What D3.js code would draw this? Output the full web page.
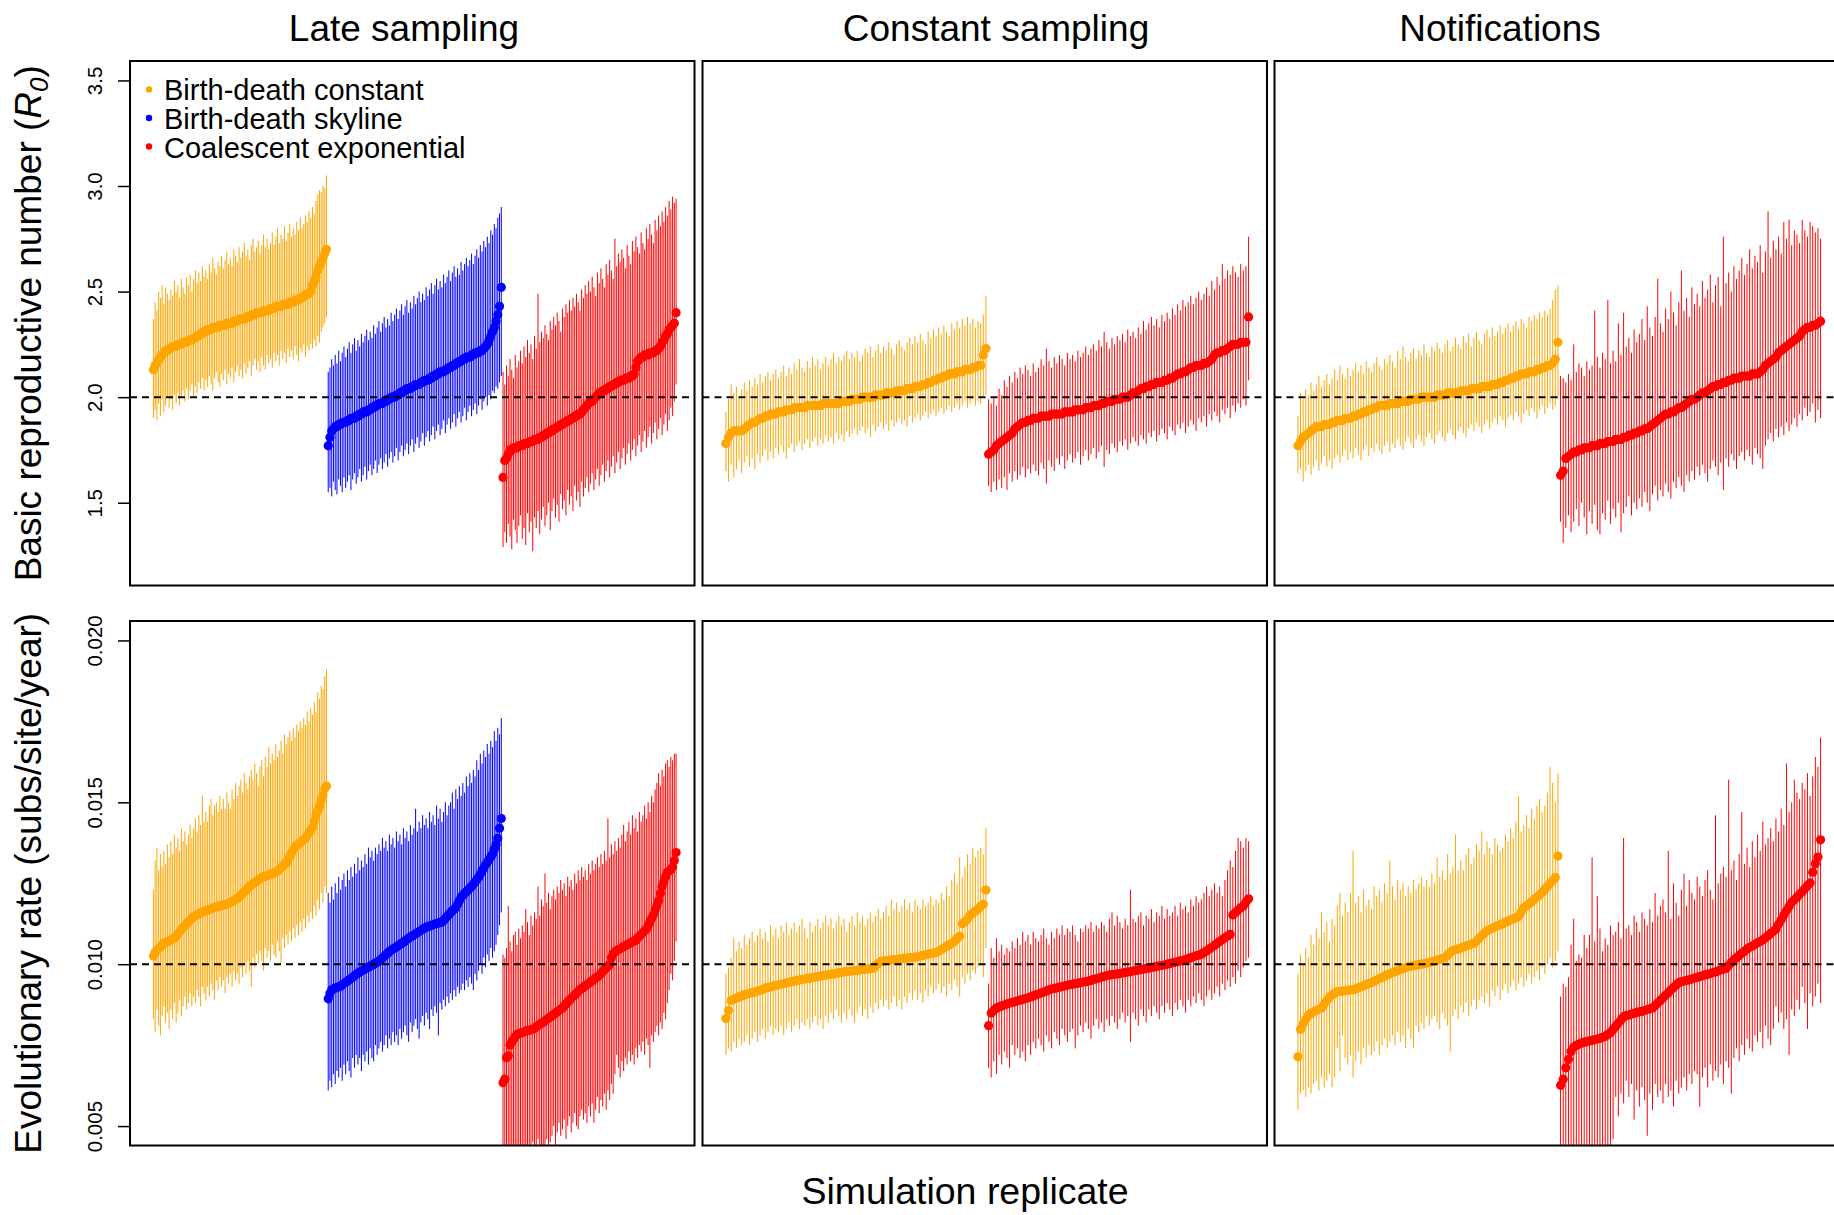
<!DOCTYPE html>
<html>
<head>
<meta charset="utf-8">
<script src="https://cdn.jsdelivr.net/npm/d3@7"></script>
<style>
  body { margin: 0; background: #fff; }
  svg { display: block; }
  text { font-family: "Liberation Sans", Arial, Helvetica, sans-serif; fill: #000; }
</style>
</head>
<body>
<div id="chart"></div>
<script>
// ---- labels ----
const columnTitles = ["Late sampling", "Constant sampling", "Notifications"];
const methods = ["Birth-death constant", "Birth-death skyline", "Coalescent exponential"];
const methodColors = ["orange", "blue", "red"];
const r0Ticks = [1.5, 2.0, 2.5, 3.0, 3.5];
const rateTicks = [0.005, 0.010, 0.015, 0.020];
const r0Lim = [1.2, 3.5];
const rateLim = [0.005, 0.020];
const trueR0 = 2.0;
const trueRate = 0.010;
const RATE_UNIT = 1e-3; // rate arrays below are in 10^-3 subs/site/year

// ---- R0, late sampling ----
const lateR0_bdc_med = [2.13,2.15,2.16,2.18,2.19,2.20,2.21,2.22,2.22,2.23, 2.23,2.24,2.24,2.24,2.25,2.25,2.25,2.26,2.26,2.26, 2.27,2.27,2.27,2.28,2.28,2.29,2.29,2.30,2.30,2.31, 2.31,2.32,2.32,2.32,2.33,2.33,2.33,2.33,2.34,2.34, 2.34,2.34,2.35,2.35,2.35,2.35,2.36,2.36,2.36,2.37, 2.37,2.37,2.37,2.38,2.38,2.38,2.39,2.39,2.39,2.40, 2.40,2.40,2.40,2.41,2.41,2.41,2.41,2.42,2.42,2.42, 2.43,2.43,2.43,2.43,2.44,2.44,2.44,2.44,2.45,2.45, 2.45,2.46,2.46,2.46,2.47,2.47,2.48,2.48,2.49,2.49, 2.50,2.53,2.55,2.57,2.60,2.62,2.64,2.66,2.68,2.70];
const lateR0_bdc_lo = [1.90,1.94,1.89,1.97,1.91,1.99,1.93,1.96,2.00,1.95, 1.99,1.94,2.01,1.97,2.02,1.96,2.00,2.03,1.98,2.04, 1.99,2.03,2.06,2.00,2.05,2.02,2.07,2.04,2.09,2.03, 2.08,2.05,2.10,2.06,2.03,2.09,2.12,2.07,2.05,2.11, 2.08,2.13,2.06,2.11,2.09,2.14,2.07,2.12,2.15,2.10, 2.13,2.09,2.16,2.11,2.14,2.17,2.10,2.15,2.18,2.13, 2.17,2.12,2.19,2.15,2.13,2.20,2.16,2.18,2.14,2.21, 2.17,2.20,2.15,2.22,2.18,2.21,2.16,2.23,2.19,2.22, 2.18,2.24,2.20,2.17,2.23,2.21,2.25,2.19,2.24,2.22, 2.25,2.23,2.27,2.24,2.29,2.26,2.31,2.33,2.35,2.38];
const lateR0_bdc_hi = [2.37,2.45,2.41,2.50,2.47,2.53,2.44,2.52,2.49,2.46, 2.51,2.48,2.55,2.50,2.53,2.47,2.56,2.52,2.49,2.57, 2.53,2.58,2.50,2.56,2.60,2.54,2.59,2.55,2.62,2.57, 2.60,2.56,2.63,2.59,2.66,2.61,2.58,2.64,2.62,2.67, 2.61,2.65,2.69,2.63,2.66,2.62,2.70,2.67,2.64,2.71, 2.66,2.69,2.73,2.67,2.70,2.65,2.72,2.75,2.69,2.71, 2.74,2.68,2.72,2.77,2.71,2.75,2.70,2.73,2.78,2.72, 2.76,2.80,2.73,2.77,2.75,2.81,2.74,2.78,2.82,2.76, 2.80,2.77,2.83,2.79,2.85,2.80,2.82,2.86,2.83,2.88, 2.85,2.90,2.87,2.93,2.96,2.98,2.97,3.00,2.99,3.05];

const lateR0_bds_med = [1.77,1.81,1.84,1.85,1.86,1.86,1.87,1.87,1.88,1.88, 1.88,1.89,1.89,1.90,1.90,1.90,1.91,1.91,1.92,1.92, 1.93,1.93,1.93,1.94,1.94,1.95,1.95,1.96,1.96,1.97, 1.97,1.97,1.98,1.98,1.99,1.99,2.00,2.00,2.00,2.01, 2.01,2.02,2.02,2.03,2.03,2.04,2.04,2.04,2.05,2.05, 2.06,2.06,2.06,2.07,2.07,2.08,2.08,2.08,2.09,2.09, 2.10,2.10,2.11,2.11,2.12,2.12,2.12,2.13,2.13,2.14, 2.14,2.15,2.15,2.16,2.16,2.17,2.17,2.18,2.18,2.19, 2.19,2.19,2.20,2.20,2.21,2.21,2.21,2.22,2.22,2.23, 2.24,2.25,2.27,2.29,2.31,2.33,2.36,2.39,2.43,2.52];
const lateR0_bds_lo = [1.55,1.57,1.53,1.60,1.56,1.54,1.61,1.58,1.55,1.62, 1.57,1.60,1.63,1.56,1.61,1.64,1.59,1.62,1.66,1.60, 1.63,1.67,1.61,1.65,1.68,1.63,1.66,1.70,1.64,1.68, 1.71,1.66,1.69,1.73,1.67,1.71,1.74,1.69,1.72,1.76, 1.70,1.74,1.77,1.72,1.75,1.78,1.73,1.77,1.80,1.74, 1.78,1.81,1.76,1.79,1.83,1.77,1.81,1.84,1.79,1.82, 1.86,1.80,1.84,1.87,1.82,1.85,1.89,1.83,1.87,1.90, 1.85,1.88,1.92,1.86,1.90,1.93,1.88,1.91,1.95,1.89, 1.93,1.96,1.91,1.94,1.97,1.92,1.96,1.99,1.94,1.98, 2.00,1.96,2.01,1.99,2.03,2.02,2.05,2.04,2.07,2.10];
const lateR0_bds_hi = [2.12,2.14,2.18,2.15,2.20,2.16,2.22,2.17,2.21,2.24, 2.19,2.23,2.26,2.21,2.25,2.28,2.22,2.27,2.24,2.30, 2.26,2.29,2.32,2.27,2.31,2.28,2.34,2.30,2.33,2.36, 2.31,2.35,2.38,2.33,2.37,2.34,2.40,2.36,2.39,2.42, 2.37,2.41,2.44,2.39,2.43,2.46,2.40,2.45,2.42,2.48, 2.44,2.47,2.50,2.45,2.49,2.46,2.52,2.48,2.51,2.54, 2.49,2.53,2.56,2.51,2.55,2.52,2.58,2.54,2.57,2.60, 2.55,2.59,2.62,2.57,2.61,2.58,2.64,2.60,2.63,2.66, 2.62,2.65,2.68,2.63,2.67,2.70,2.66,2.72,2.69,2.74, 2.71,2.76,2.73,2.79,2.77,2.82,2.80,2.85,2.87,2.90];

const lateR0_ce_med = [1.62,1.70,1.71,1.73,1.75,1.75,1.76,1.76,1.76,1.77, 1.77,1.77,1.78,1.78,1.78,1.79,1.79,1.79,1.80,1.80, 1.80,1.81,1.81,1.82,1.82,1.83,1.83,1.84,1.84,1.85, 1.85,1.86,1.86,1.87,1.87,1.88,1.88,1.89,1.89,1.90, 1.90,1.91,1.91,1.92,1.92,1.93,1.94,1.95,1.96,1.97, 1.98,1.98,1.99,2.00,2.01,2.02,2.02,2.03,2.03,2.04, 2.04,2.05,2.05,2.06,2.06,2.07,2.07,2.08,2.08,2.08, 2.09,2.09,2.09,2.10,2.10,2.11,2.14,2.17,2.18,2.19, 2.19,2.20,2.20,2.20,2.21,2.21,2.21,2.22,2.22,2.23, 2.24,2.26,2.27,2.29,2.30,2.32,2.33,2.34,2.35,2.40];
const lateR0_ce_lo = [1.29,1.36,1.31,1.40,1.34,1.28,1.42,1.37,1.31,1.39, 1.44,1.33,1.38,1.30,1.45,1.36,1.41,1.27,1.43,1.38, 1.46,1.35,1.42,1.48,1.39,1.44,1.50,1.37,1.46,1.52, 1.43,1.49,1.41,1.54,1.47,1.51,1.44,1.56,1.49,1.53, 1.46,1.58,1.51,1.55,1.48,1.60,1.53,1.57,1.62,1.55, 1.59,1.64,1.56,1.61,1.66,1.58,1.63,1.68,1.60,1.65, 1.70,1.62,1.67,1.72,1.64,1.69,1.74,1.66,1.71,1.76, 1.68,1.73,1.78,1.70,1.75,1.80,1.72,1.77,1.82,1.74, 1.79,1.84,1.76,1.81,1.86,1.78,1.83,1.88,1.80,1.85, 1.90,1.82,1.87,1.92,1.84,1.89,1.95,1.91,1.98,2.06];
const lateR0_ce_hi = [2.12,2.06,2.15,2.10,2.18,2.13,2.09,2.20,2.14,2.17, 2.22,2.16,2.24,2.19,2.27,2.21,2.25,2.18,2.29,2.23, 2.49,2.26,2.31,2.28,2.34,2.30,2.27,2.36,2.32,2.38, 2.34,2.40,2.36,2.31,2.42,2.38,2.44,2.40,2.46,2.41, 2.47,2.43,2.49,2.45,2.41,2.51,2.47,2.53,2.49,2.55, 2.50,2.57,2.52,2.48,2.59,2.54,2.61,2.56,2.52,2.63, 2.58,2.65,2.60,2.56,2.75,2.62,2.68,2.64,2.70,2.66, 2.61,2.72,2.67,2.63,2.74,2.69,2.76,2.71,2.68,2.78, 2.73,2.70,2.80,2.75,2.82,2.77,2.73,2.84,2.79,2.86, 2.81,2.88,2.83,2.90,2.86,2.93,2.89,2.95,2.92,2.94];

// ---- R0, constant sampling ----
const constR0_bdc_med = [1.78,1.81,1.83,1.84,1.84,1.84,1.84,1.85,1.86,1.87, 1.88,1.88,1.89,1.90,1.90,1.91,1.91,1.92,1.92,1.92, 1.93,1.93,1.93,1.94,1.94,1.94,1.95,1.95,1.95,1.95, 1.95,1.96,1.96,1.96,1.96,1.96,1.96,1.97,1.97,1.97, 1.97,1.97,1.97,1.97,1.98,1.98,1.98,1.98,1.99,1.99, 1.99,1.99,2.00,2.00,2.00,2.00,2.00,2.01,2.01,2.01, 2.01,2.02,2.02,2.02,2.02,2.03,2.03,2.03,2.03,2.04, 2.04,2.04,2.05,2.05,2.05,2.06,2.06,2.07,2.07,2.08, 2.08,2.09,2.09,2.10,2.10,2.11,2.11,2.11,2.12,2.12, 2.12,2.13,2.13,2.13,2.14,2.14,2.15,2.15,2.20,2.23];
const constR0_bdc_lo = [1.65,1.60,1.68,1.62,1.66,1.70,1.64,1.69,1.72,1.67, 1.71,1.66,1.73,1.69,1.72,1.75,1.70,1.74,1.71,1.76, 1.73,1.77,1.74,1.71,1.76,1.78,1.74,1.77,1.79,1.75, 1.78,1.80,1.76,1.79,1.81,1.77,1.80,1.78,1.82,1.79, 1.81,1.78,1.83,1.80,1.82,1.79,1.84,1.81,1.83,1.85, 1.82,1.84,1.86,1.83,1.85,1.81,1.87,1.84,1.86,1.88, 1.85,1.87,1.84,1.89,1.86,1.88,1.90,1.87,1.89,1.86, 1.91,1.88,1.90,1.92,1.89,1.91,1.93,1.90,1.92,1.94, 1.91,1.93,1.95,1.92,1.94,1.96,1.93,1.95,1.97,1.94, 1.96,1.98,1.95,1.97,1.99,1.96,1.98,1.97,2.00,2.01];
const constR0_bdc_hi = [1.93,1.99,2.06,2.02,2.05,2.00,2.04,2.07,2.03,2.08, 2.05,2.09,2.06,2.11,2.07,2.10,2.12,2.08,2.11,2.13, 2.09,2.12,2.15,2.10,2.14,2.11,2.16,2.13,2.18,2.14, 2.12,2.17,2.14,2.19,2.15,2.18,2.13,2.16,2.19,2.15, 2.18,2.21,2.16,2.19,2.17,2.20,2.22,2.18,2.21,2.19, 2.22,2.17,2.20,2.23,2.21,2.24,2.19,2.22,2.25,2.21, 2.24,2.22,2.26,2.23,2.20,2.25,2.27,2.24,2.22,2.26, 2.28,2.25,2.29,2.26,2.30,2.27,2.25,2.31,2.28,2.32, 2.29,2.33,2.30,2.34,2.31,2.29,2.35,2.32,2.36,2.33, 2.37,2.34,2.38,2.35,2.37,2.33,2.36,2.35,2.39,2.48];

const constR0_ce_med = [1.73,1.74,1.75,1.77,1.78,1.79,1.80,1.81,1.82,1.83, 1.85,1.86,1.87,1.88,1.88,1.89,1.89,1.90,1.90,1.90, 1.91,1.91,1.91,1.91,1.92,1.92,1.92,1.92,1.92,1.93, 1.93,1.93,1.93,1.94,1.94,1.94,1.94,1.95,1.95,1.95, 1.96,1.96,1.96,1.97,1.97,1.98,1.98,1.98,1.99,1.99, 1.99,2.00,2.00,2.00,2.01,2.02,2.02,2.03,2.04,2.04, 2.05,2.05,2.06,2.06,2.07,2.07,2.07,2.08,2.08,2.09, 2.09,2.10,2.11,2.11,2.12,2.12,2.13,2.14,2.14,2.15, 2.15,2.15,2.16,2.16,2.17,2.18,2.20,2.21,2.21,2.22, 2.22,2.23,2.24,2.25,2.25,2.25,2.26,2.26,2.26,2.38];
const constR0_ce_lo = [1.58,1.55,1.60,1.56,1.61,1.57,1.62,1.56,1.64,1.60, 1.65,1.61,1.63,1.67,1.62,1.66,1.64,1.68,1.65,1.63, 1.69,1.66,1.59,1.70,1.67,1.65,1.71,1.68,1.72,1.66, 1.70,1.73,1.69,1.71,1.74,1.68,1.72,1.75,1.70,1.73, 1.76,1.71,1.74,1.77,1.67,1.75,1.73,1.78,1.76,1.74, 1.79,1.77,1.80,1.75,1.78,1.81,1.79,1.77,1.82,1.80, 1.78,1.83,1.81,1.84,1.79,1.82,1.85,1.83,1.80,1.86, 1.84,1.82,1.87,1.85,1.88,1.83,1.86,1.89,1.87,1.84, 1.90,1.88,1.91,1.86,1.92,1.89,1.93,1.91,1.88,1.94, 1.92,1.95,1.90,1.96,1.93,1.97,1.95,1.99,1.96,2.08];
const constR0_ce_hi = [1.99,1.97,2.00,1.96,2.04,2.01,2.08,2.05,2.10,2.07, 2.12,2.09,2.14,2.11,2.15,2.13,2.10,2.16,2.12,2.14, 2.18,2.15,2.23,2.17,2.14,2.19,2.16,2.20,2.18,2.15, 2.21,2.18,2.20,2.17,2.22,2.19,2.21,2.24,2.20,2.23, 2.25,2.22,2.27,2.24,2.31,2.26,2.23,2.28,2.25,2.29, 2.27,2.30,2.26,2.32,2.29,2.31,2.28,2.33,2.30,2.36, 2.32,2.35,2.38,2.34,2.37,2.33,2.39,2.36,2.40,2.37, 2.42,2.39,2.44,2.41,2.46,2.43,2.45,2.48,2.44,2.47, 2.50,2.46,2.49,2.52,2.48,2.55,2.51,2.57,2.53,2.63, 2.56,2.60,2.58,2.62,2.59,2.57,2.63,2.60,2.62,2.76];

// ---- R0, notifications ----
const notifR0_bdc_med = [1.77,1.79,1.81,1.82,1.83,1.84,1.85,1.86,1.86,1.86, 1.87,1.87,1.87,1.88,1.88,1.89,1.89,1.89,1.90,1.90, 1.90,1.91,1.91,1.92,1.92,1.93,1.93,1.94,1.94,1.95, 1.95,1.96,1.96,1.96,1.96,1.97,1.97,1.97,1.97,1.98, 1.98,1.98,1.98,1.99,1.99,1.99,1.99,2.00,2.00,2.00, 2.00,2.00,2.00,2.01,2.01,2.01,2.01,2.02,2.02,2.02, 2.02,2.02,2.03,2.03,2.03,2.03,2.04,2.04,2.04,2.04, 2.05,2.05,2.05,2.05,2.06,2.06,2.06,2.07,2.07,2.08, 2.08,2.09,2.09,2.10,2.10,2.11,2.11,2.11,2.12,2.12, 2.12,2.13,2.13,2.14,2.14,2.15,2.15,2.16,2.18,2.26];
const notifR0_bdc_lo = [1.64,1.66,1.60,1.65,1.68,1.63,1.67,1.70,1.65,1.69, 1.72,1.67,1.70,1.66,1.71,1.73,1.69,1.72,1.75,1.70, 1.74,1.71,1.76,1.73,1.70,1.75,1.77,1.72,1.76,1.74, 1.78,1.75,1.73,1.77,1.79,1.74,1.78,1.76,1.80,1.77, 1.75,1.79,1.81,1.78,1.76,1.80,1.82,1.79,1.77,1.81, 1.83,1.80,1.78,1.82,1.84,1.81,1.79,1.83,1.85,1.82, 1.80,1.84,1.86,1.83,1.81,1.85,1.87,1.84,1.88,1.86, 1.83,1.87,1.89,1.85,1.88,1.90,1.87,1.91,1.89,1.86, 1.90,1.92,1.89,1.93,1.91,1.88,1.92,1.94,1.91,1.95, 1.93,1.90,1.94,1.96,1.92,1.95,1.97,1.94,1.96,1.99];
const notifR0_bdc_hi = [1.91,2.02,1.99,2.04,2.01,2.07,2.03,2.06,2.10,2.05, 2.08,2.11,2.06,2.09,2.13,2.08,2.15,2.11,2.09,2.14, 2.10,2.13,2.16,2.12,2.15,2.11,2.17,2.14,2.12,2.16, 2.19,2.15,2.13,2.18,2.16,2.20,2.17,2.14,2.22,2.18, 2.24,2.19,2.17,2.21,2.23,2.18,2.22,2.20,2.25,2.21, 2.19,2.24,2.22,2.26,2.23,2.21,2.25,2.27,2.22,2.24, 2.28,2.25,2.23,2.29,2.26,2.30,2.24,2.28,2.31,2.27, 2.25,2.30,2.32,2.28,2.33,2.29,2.31,2.34,2.30,2.33, 2.35,2.31,2.34,2.36,2.32,2.37,2.35,2.33,2.38,2.36, 2.39,2.37,2.40,2.38,2.41,2.39,2.42,2.46,2.51,2.53];

const notifR0_ce_med = [1.63,1.65,1.71,1.72,1.73,1.74,1.74,1.75,1.75,1.76, 1.76,1.76,1.77,1.77,1.77,1.78,1.78,1.78,1.79,1.79, 1.79,1.80,1.80,1.80,1.81,1.81,1.82,1.82,1.83,1.83, 1.84,1.84,1.85,1.85,1.86,1.87,1.88,1.89,1.90,1.91, 1.92,1.92,1.93,1.93,1.94,1.95,1.95,1.96,1.97,1.98, 1.99,1.99,2.00,2.01,2.02,2.02,2.03,2.04,2.05,2.05, 2.06,2.06,2.07,2.07,2.08,2.08,2.09,2.09,2.09,2.10, 2.10,2.10,2.10,2.11,2.11,2.11,2.12,2.13,2.15,2.16, 2.17,2.18,2.19,2.21,2.22,2.23,2.24,2.25,2.26,2.27, 2.28,2.29,2.31,2.32,2.33,2.33,2.34,2.34,2.35,2.36];
const notifR0_ce_lo = [1.41,1.31,1.38,1.44,1.36,1.41,1.47,1.39,1.50,1.43, 1.35,1.46,1.40,1.49,1.37,1.35,1.45,1.42,1.51,1.40, 1.47,1.43,1.50,1.36,1.45,1.48,1.53,1.44,1.50,1.47, 1.52,1.48,1.55,1.50,1.46,1.54,1.58,1.51,1.56,1.53, 1.59,1.55,1.52,1.60,1.57,1.62,1.58,1.55,1.63,1.60, 1.65,1.61,1.67,1.63,1.68,1.64,1.60,1.66,1.70,1.67, 1.63,1.69,1.56,1.71,1.67,1.73,1.70,1.66,1.72,1.74, 1.70,1.75,1.72,1.68,1.76,1.73,1.71,1.66,1.77,1.80, 1.83,1.79,1.85,1.81,1.86,1.82,1.88,1.84,1.87,1.90, 1.86,1.92,1.89,1.95,1.91,1.93,1.97,1.88,1.94,1.90];
const notifR0_ce_hi = [2.10,2.09,2.07,2.11,2.08,2.25,2.12,2.16,2.14,2.10, 2.17,2.13,2.15,2.41,2.19,2.14,2.21,2.18,2.46,2.16, 2.22,2.17,2.35,2.20,2.40,2.24,2.28,2.21,2.32,2.26, 2.30,2.37,2.27,2.43,2.33,2.29,2.38,2.56,2.35,2.31, 2.42,2.37,2.50,2.40,2.34,2.45,2.60,2.41,2.47,2.38, 2.52,2.44,2.49,2.43,2.55,2.47,2.51,2.58,2.45,2.53, 2.57,2.43,2.76,2.54,2.59,2.50,2.62,2.56,2.60,2.66, 2.58,2.63,2.70,2.61,2.67,2.64,2.72,2.59,2.69,2.88, 2.66,2.74,2.70,2.76,2.68,2.83,2.75,2.84,2.72,2.79, 2.77,2.73,2.84,2.79,2.76,2.83,2.81,2.78,2.80,2.75];

// ---- evolutionary rate (x 10^-3), late sampling ----
const lateRate_bdc_med = [10.25,10.36,10.42,10.48,10.53,10.59,10.64,10.67,10.70,10.72, 10.75,10.78,10.80,10.86,10.93,11.00,11.07,11.13,11.19,11.25, 11.30,11.36,11.41,11.47,11.50,11.53,11.56,11.58,11.61,11.63, 11.65,11.67,11.69,11.71,11.74,11.75,11.77,11.78,11.80,11.81, 11.83,11.84,11.85,11.88,11.91,11.94,11.97,12.00,12.03,12.07, 12.12,12.18,12.24,12.29,12.34,12.40,12.44,12.48,12.52,12.56, 12.60,12.64,12.68,12.70,12.72,12.74,12.76,12.78,12.80,12.82, 12.84,12.88,12.93,12.98,13.03,13.08,13.12,13.23,13.34,13.43, 13.52,13.62,13.66,13.71,13.75,13.80,13.85,13.89,13.98,14.06, 14.14,14.22,14.42,14.61,14.75,14.88,15.05,15.22,15.43,15.50];
const lateRate_bdc_lo = [8.3,7.9,8.6,8.1,7.8,8.4,8.7,8.2,8.5,8.0, 8.6,8.3,8.8,8.2,8.5,8.9,8.4,8.7,9.0,8.6, 8.8,9.1,8.7,9.0,8.8,9.2,9.0,8.7,9.3,9.1, 8.9,9.3,9.0,9.4,9.2,8.9,9.5,9.2,9.6,9.3, 9.5,9.1,9.6,9.4,9.7,9.3,9.8,9.5,9.7,9.4, 9.9,9.6,10.0,9.7,10.1,9.8,9.3,10.2,9.9,10.3, 10.0,10.4,10.1,9.8,10.5,10.2,10.4,10.1,10.6,10.3, 10.2,10.7,10.4,10.0,10.8,10.5,10.9,10.6,11.0,10.7, 11.1,10.8,11.2,10.9,11.3,11.0,11.4,11.1,11.5,11.3, 11.6,11.4,11.8,11.5,12.0,11.7,12.2,11.9,12.4,12.2];
const lateRate_bdc_hi = [12.3,13.2,13.6,12.9,13.4,13.0,13.5,13.1,13.7,13.3, 13.8,13.4,14.0,13.6,13.9,13.5,14.2,13.8,14.1,13.7, 14.0,14.3,13.9,14.2,14.5,14.1,14.6,14.3,15.2,14.4, 14.7,14.4,14.9,15.1,14.6,14.9,15.0,14.7,15.2,14.8, 15.1,14.8,15.3,15.0,14.8,15.4,15.1,15.6,15.2,15.5, 15.7,15.3,15.9,15.6,15.4,15.8,16.0,15.7,16.2,15.9, 15.5,16.1,16.3,15.8,16.4,16.1,16.7,16.2,16.5,16.3, 16.8,16.4,16.6,16.9,16.5,17.1,16.8,17.0,17.2,16.9, 17.3,17.0,17.4,17.2,17.5,17.3,17.6,17.4,17.8,17.5, 17.9,17.7,18.1,17.8,18.4,18.2,18.6,18.5,18.9,19.1];

const lateRate_bds_med = [8.93,9.10,9.21,9.24,9.26,9.28,9.30,9.32,9.36,9.40, 9.44,9.48,9.52,9.56,9.60,9.64,9.68,9.72,9.76,9.79, 9.82,9.85,9.88,9.91,9.94,9.97,10.00,10.03,10.06,10.09, 10.14,10.19,10.24,10.29,10.34,10.39,10.43,10.47,10.50,10.53, 10.57,10.61,10.64,10.68,10.72,10.76,10.80,10.84,10.87,10.91, 10.94,10.97,11.01,11.04,11.08,11.11,11.14,11.16,11.18,11.20, 11.22,11.24,11.25,11.27,11.29,11.30,11.35,11.41,11.47,11.53, 11.59,11.65,11.70,11.74,11.85,11.96,12.07,12.12,12.18,12.24, 12.29,12.35,12.40,12.47,12.54,12.61,12.68,12.78,12.88,12.97, 13.07,13.15,13.23,13.32,13.40,13.55,13.70,13.89,14.20,14.50];
const lateRate_bds_lo = [6.1,6.4,6.2,6.6,6.3,6.7,6.5,6.8,6.4,6.9, 6.6,7.0,6.7,6.5,7.1,6.8,7.2,6.9,7.1,6.7, 7.2,7.0,7.3,6.9,7.4,7.1,7.0,7.5,7.2,7.4, 7.6,7.3,7.5,7.8,7.4,7.7,7.5,7.9,7.6,7.8, 7.5,8.0,7.7,7.9,8.1,7.8,7.6,8.2,7.9,8.1, 8.3,8.0,7.7,8.2,8.4,8.1,8.5,8.3,8.0,8.6, 8.4,8.7,8.5,7.8,8.8,8.6,8.9,8.7,9.0,8.8, 9.1,8.9,9.2,9.0,9.3,9.1,9.2,9.4,9.2,9.5, 9.3,9.6,9.4,9.2,9.7,9.5,9.8,10.0,9.7,10.2, 9.9,10.3,10.1,10.5,10.2,10.4,10.6,10.9,11.2,11.6];
const lateRate_bds_hi = [12.2,11.9,12.4,12.0,12.5,12.2,12.7,12.3,12.6,12.8, 12.4,12.9,12.6,13.0,12.7,13.1,12.8,13.3,12.9,13.2, 13.0,13.4,13.1,13.6,13.3,13.5,13.2,13.6,13.4,13.7, 13.5,13.9,13.6,13.8,13.5,14.0,13.7,13.9,13.6,14.1, 13.8,14.0,13.7,14.2,13.9,14.1,13.8,14.3,14.0,14.2, 14.8,14.1,14.4,14.2,14.6,14.3,14.5,14.2,14.7,14.4, 14.6,14.3,14.9,14.5,14.8,14.4,14.7,15.0,14.6,14.9, 15.0,15.3,14.8,15.4,15.1,15.5,15.2,15.6,15.3,15.8, 15.5,15.9,15.6,16.0,15.8,16.3,16.0,16.5,16.2,16.6, 16.4,16.8,16.5,16.9,16.7,17.2,16.9,17.3,17.1,17.6];

const lateRate_ce_med = [6.34,6.45,7.11,7.17,7.50,7.60,7.68,7.76,7.83,7.85, 7.87,7.89,7.91,7.93,7.95,7.96,7.98,7.99,8.03,8.07, 8.10,8.14,8.18,8.21,8.25,8.29,8.33,8.37,8.41,8.45, 8.49,8.53,8.57,8.61,8.65,8.71,8.77,8.83,8.89,8.95, 9.00,9.05,9.10,9.16,9.21,9.25,9.29,9.33,9.37,9.41, 9.45,9.49,9.53,9.57,9.61,9.65,9.71,9.77,9.83,9.89, 9.94,9.98,10.20,10.32,10.38,10.42,10.45,10.48,10.51,10.54, 10.57,10.60,10.63,10.66,10.69,10.72,10.75,10.81,10.86,10.92, 10.97,11.03,11.08,11.19,11.30,11.41,11.52,11.67,11.81,11.96, 12.18,12.40,12.55,12.70,12.84,12.88,12.92,13.00,13.20,13.45];
const lateRate_ce_lo = [3.8,4.1,3.6,4.3,3.9,4.2,3.7,4.0,4.3,3.8, 4.2,3.9,4.4,4.0,4.3,3.8,4.1,4.5,4.0,4.3, 4.6,4.1,4.4,4.2,3.9,4.6,4.3,4.5,4.7,5.0, 4.4,4.8,5.1,4.7,4.9,5.2,4.6,5.0,5.3,4.8, 5.1,5.4,5.0,4.9,5.3,5.5,5.2,5.4,5.1,5.6, 5.3,5.7,5.1,5.5,5.9,5.4,5.8,5.6,6.0,5.5, 6.1,5.8,6.3,6.0,6.6,7.2,6.8,6.5,7.0,6.7, 7.1,6.9,7.3,7.0,7.2,6.9,7.4,7.1,7.5,7.3, 7.6,7.2,7.7,7.5,6.8,7.8,7.6,7.9,8.1,7.8, 8.2,8.0,8.5,8.3,8.8,9.2,9.7,9.5,10.1,10.7];
const lateRate_ce_hi = [10.3,10.2,10.5,11.8,10.7,10.4,10.9,11.0,10.6,11.1, 10.8,11.2,11.0,11.7,11.3,10.9,11.5,11.2,11.6,11.4, 12.4,11.5,12.0,11.8,12.8,11.9,12.2,11.7,12.1,12.3, 12.0,12.4,12.2,12.6,12.3,12.5,12.1,12.7,12.4,12.6, 12.3,12.8,12.5,12.9,12.6,13.0,12.7,12.9,12.6,13.1, 12.8,13.2,12.9,13.1,13.3,13.0,13.4,13.1,13.5,13.2, 14.5,13.3,13.7,13.4,13.8,13.5,13.9,13.6,14.0,14.3, 13.8,14.1,14.4,14.0,14.6,14.2,14.5,14.1,14.7,14.4, 14.6,14.9,14.5,15.0,14.7,15.2,15.0,15.4,15.6,15.9, 15.5,16.0,15.8,16.2,16.3,16.1,16.4,16.3,16.5,16.5];

// ---- evolutionary rate (x 10^-3), constant sampling ----
const constRate_bdc_med = [8.32,8.57,8.88,8.92,8.95,8.99,9.02,9.05,9.08,9.10, 9.12,9.14,9.17,9.19,9.22,9.26,9.28,9.30,9.32,9.34, 9.36,9.38,9.40,9.42,9.44,9.46,9.48,9.50,9.51,9.53, 9.54,9.56,9.57,9.59,9.60,9.62,9.63,9.65,9.66,9.68, 9.69,9.70,9.72,9.73,9.75,9.76,9.77,9.78,9.79,9.80, 9.81,9.82,9.83,9.84,9.85,9.86,9.87,9.95,10.02,10.09, 10.10,10.11,10.12,10.13,10.14,10.15,10.16,10.17,10.18,10.19, 10.20,10.21,10.22,10.23,10.25,10.27,10.29,10.31,10.33,10.34, 10.36,10.40,10.45,10.50,10.55,10.60,10.64,10.71,10.79,10.86, 11.25,11.30,11.40,11.52,11.58,11.64,11.70,11.80,11.85,12.29];
const constRate_bdc_lo = [7.2,7.4,7.3,7.6,7.4,7.7,7.5,7.6,7.8,7.5, 7.7,7.9,7.6,7.8,8.0,7.7,7.9,8.1,7.8,8.0, 7.9,8.1,7.8,8.0,8.2,7.9,8.1,8.3,8.0,8.2, 8.1,8.3,8.0,8.2,8.4,8.1,8.3,8.0,8.4,8.2, 8.5,8.3,8.6,8.4,8.2,8.5,8.3,8.6,8.4,8.2, 8.5,8.7,8.4,8.6,8.3,8.7,8.5,8.8,8.6,8.9, 8.7,8.9,8.6,8.8,9.0,8.7,8.9,8.6,9.0,8.8, 9.1,8.9,9.2,8.9,9.1,8.8,9.2,9.0,9.3,9.1, 9.2,9.4,9.1,9.3,9.0,9.4,9.2,9.5,9.3,9.0, 9.6,9.4,9.7,9.5,9.8,9.7,9.9,10.0,9.6,10.5];
const constRate_bdc_hi = [9.7,9.9,10.2,10.8,10.4,10.7,10.5,10.9,10.6,10.8, 11.0,10.7,10.9,11.1,10.8,11.0,10.7,11.2,10.9,11.1, 10.8,11.2,11.0,11.3,10.9,11.1,11.3,11.0,11.2,11.4, 11.1,10.8,11.3,11.0,11.2,11.4,11.1,11.3,11.5,11.2, 11.4,11.1,11.3,11.5,11.2,11.4,11.0,11.3,11.5,11.2, 11.6,11.3,11.5,11.2,11.4,11.6,11.3,11.5,11.7,11.4, 11.6,11.8,11.5,12.0,11.7,11.9,11.6,11.8,12.0,11.7, 11.9,11.6,12.0,11.8,11.7,12.0,11.8,11.9,12.1,11.8, 12.0,11.9,12.2,12.0,12.4,12.1,12.6,12.8,12.5,13.3, 12.7,13.0,13.4,13.1,13.6,13.3,13.5,13.6,13.4,14.2];

const constRate_ce_med = [8.10,8.49,8.58,8.65,8.68,8.71,8.74,8.77,8.80,8.82, 8.84,8.87,8.89,8.91,8.94,8.96,8.99,9.02,9.05,9.08, 9.11,9.14,9.17,9.21,9.23,9.25,9.27,9.29,9.31,9.33, 9.35,9.37,9.38,9.40,9.41,9.43,9.45,9.46,9.48,9.50, 9.53,9.55,9.57,9.60,9.62,9.65,9.66,9.68,9.69,9.70, 9.71,9.73,9.74,9.76,9.77,9.79,9.80,9.82,9.83,9.85, 9.87,9.88,9.90,9.91,9.93,9.95,9.96,9.98,10.00,10.02, 10.04,10.06,10.08,10.10,10.12,10.14,10.17,10.20,10.23,10.26, 10.28,10.31,10.36,10.41,10.47,10.52,10.58,10.64,10.70,10.76, 10.82,10.87,10.92,11.52,11.60,11.67,11.74,11.80,11.92,12.02];
const constRate_ce_lo = [6.8,6.5,7.0,6.6,7.2,6.9,7.3,7.1,6.8,7.5, 7.2,7.4,7.1,7.3,7.0,7.5,7.2,7.6,7.4,7.7, 7.5,7.3,7.8,7.6,7.4,7.9,7.7,7.5,8.0,7.8, 7.6,7.9,8.0,7.4,7.8,8.1,7.9,8.2,8.0,7.7, 8.1,8.3,8.0,8.2,7.9,8.3,8.1,8.4,8.2,8.0, 8.3,8.5,8.2,8.4,7.6,8.5,8.3,8.1,8.6,8.4, 8.2,8.6,8.4,8.7,8.5,8.3,8.7,8.5,8.8,8.6, 8.4,8.8,8.6,8.9,8.7,8.5,8.9,8.7,9.0,8.8, 9.1,8.9,8.7,9.0,9.2,8.9,9.1,9.3,9.0,9.4, 9.2,9.5,9.3,9.6,9.4,9.8,9.6,9.9,10.1,10.2];
const constRate_ce_hi = [9.4,10.5,10.2,10.8,10.4,10.6,10.3,10.5,10.4,10.7, 10.5,10.8,10.6,11.0,10.7,10.9,10.6,11.0,10.8,10.7, 10.9,11.1,10.8,10.6,11.0,10.8,11.1,10.9,11.2,10.9, 11.1,11.0,11.2,10.9,10.7,11.1,11.0,11.2,11.1,11.3, 11.0,11.2,11.1,11.3,11.2,11.0,11.4,11.6,11.2,11.5, 11.3,11.1,11.4,11.2,12.3,11.4,11.3,11.5,11.6,11.2, 11.5,11.4,11.7,11.3,11.6,11.5,11.8,11.4,11.7,11.5, 11.6,11.8,11.5,11.9,11.7,11.8,11.6,12.0,11.8,12.1, 11.9,12.0,12.2,12.4,12.1,12.3,12.5,12.2,12.4,12.1, 12.6,12.9,13.2,13.0,13.5,13.9,13.8,13.6,13.9,13.8];

// ---- evolutionary rate (x 10^-3), notifications ----
const notifRate_bdc_med = [7.14,7.99,8.16,8.30,8.43,8.48,8.53,8.57,8.61,8.65, 8.76,8.88,8.99,9.05,9.10,9.15,9.16,9.17,9.18,9.19, 9.20,9.21,9.24,9.27,9.30,9.33,9.37,9.40,9.43,9.47, 9.51,9.55,9.59,9.63,9.67,9.70,9.74,9.77,9.80,9.83, 9.86,9.89,9.92,9.94,9.95,9.97,9.98,10.00,10.01,10.03, 10.05,10.08,10.10,10.13,10.15,10.18,10.20,10.28,10.36,10.42, 10.45,10.47,10.50,10.53,10.56,10.59,10.62,10.64,10.72,10.80, 10.88,10.96,11.03,11.07,11.11,11.15,11.19,11.22,11.25,11.29, 11.33,11.37,11.40,11.44,11.47,11.61,11.74,11.80,11.87,11.93, 12.00,12.07,12.13,12.22,12.31,12.40,12.49,12.58,12.68,13.34];
const notifRate_bdc_lo = [5.5,6.0,6.1,5.9,6.2,6.0,6.3,6.4,6.1,6.5, 6.2,6.4,6.6,6.2,6.5,7.4,6.7,7.8,7.1,6.9, 7.2,6.5,7.0,7.3,6.9,7.4,7.1,7.5,7.2,7.3, 7.6,7.2,7.5,7.7,7.4,7.6,7.8,7.5,7.9,7.6, 7.8,7.4,8.0,7.7,7.4,8.1,7.9,8.2,8.0,8.4, 8.1,8.3,8.4,8.2,8.0,8.5,8.3,8.1,7.3,8.4, 8.6,8.3,8.7,8.5,8.8,8.4,8.7,8.9,8.6,8.9, 9.0,8.8,9.1,8.7,9.2,9.0,9.3,8.9,9.2,9.4, 9.1,9.3,9.5,9.2,9.4,9.6,9.3,9.5,9.7,9.4, 9.6,9.8,9.5,9.9,9.7,10.0,10.2,9.9,10.1,10.4];
const notifRate_bdc_hi = [9.7,10.3,10.0,10.5,10.2,10.9,10.6,11.1,10.8,11.6, 11.0,11.3,10.7,11.4,11.2,11.8,12.2,11.5,11.9,11.6, 12.2,13.5,11.9,12.1,11.6,12.3,11.8,12.0,11.7,12.4, 12.1,12.3,11.9,12.5,12.2,13.2,12.4,12.0,12.6,12.3, 12.5,12.1,12.4,12.2,12.6,12.3,12.5,12.7,12.4,12.6, 12.4,12.8,12.5,13.3,12.7,12.9,12.6,13.4,12.8,13.0, 14.0,12.9,13.2,12.9,13.4,13.6,13.1,13.3,13.7,13.5, 14.1,13.4,13.8,13.6,13.4,13.9,13.7,13.5,13.6,14.0, 13.8,14.2,13.9,14.4,15.2,14.1,14.3,14.6,14.2,14.8, 14.5,14.9,15.1,14.7,14.9,15.3,16.1,15.6,15.0,15.9];

const notifRate_ce_med = [6.26,6.45,6.80,7.06,7.30,7.44,7.49,7.53,7.56,7.59, 7.61,7.63,7.65,7.67,7.69,7.71,7.74,7.77,7.83,7.88, 7.98,8.08,8.18,8.28,8.38,8.41,8.43,8.46,8.48,8.51, 8.53,8.54,8.57,8.60,8.62,8.65,8.72,8.80,8.88,8.96, 9.04,9.12,9.20,9.28,9.36,9.43,9.46,9.48,9.50,9.52, 9.54,9.57,9.59,9.62,9.64,9.67,9.69,9.71,9.74,9.76, 9.79,9.82,9.84,9.87,9.96,10.05,10.14,10.20,10.27,10.34, 10.40,10.47,10.52,10.56,10.61,10.66,10.70,10.75,10.82,10.88, 10.95,11.02,11.08,11.23,11.37,11.52,11.65,11.78,11.91,11.99, 12.07,12.16,12.24,12.33,12.42,12.51,12.84,13.10,13.31,13.84];
const notifRate_ce_lo = [3.9,4.2,3.7,4.0,4.3,3.8,4.1,3.6,4.2,3.9, 4.3,4.0,3.7,4.2,4.4,3.9,4.1,3.8,4.3,4.0, 4.6,5.9,5.3,6.0,5.7,6.4,5.9,6.3,5.2,6.1, 5.6,6.2,5.8,4.7,6.0,5.5,6.3,5.9,6.1,5.7, 6.3,5.9,6.1,5.6,6.4,6.0,6.2,6.5,6.1,6.6, 6.3,6.7,6.6,5.6,6.5,6.8,6.2,6.9,6.4,6.7, 6.5,6.9,6.3,7.0,6.8,6.0,7.1,7.4,7.0,7.5, 7.2,7.7,7.4,7.3,7.8,7.6,7.9,7.4,8.1,7.7, 7.5,8.0,8.7,8.2,8.5,8.0,8.3,7.2,8.6,8.4, 8.9,8.6,9.3,8.8,8.0,9.1,8.7,9.0,9.4,8.8];
const notifRate_ce_hi = [9.0,9.4,9.3,9.6,10.6,11.4,10.1,10.3,10.2,10.9, 10.5,10.9,13.3,10.7,12.1,11.1,10.4,10.8,10.6,11.2, 10.9,11.0,11.3,10.8,13.9,11.1,11.2,10.9,11.5,11.3, 11.0,11.6,11.4,11.2,11.7,11.3,12.2,11.5,11.8,12.0, 11.6,13.5,11.4,12.5,11.9,11.5,12.3,12.8,11.8,12.6, 12.2,12.0,12.7,12.4,12.1,12.6,12.9,12.3,12.0,14.6, 12.5,12.8,13.0,12.7,15.7,12.9,13.2,12.6,13.4,14.7, 13.1,13.6,13.0,13.8,13.3,14.0,13.5,14.4,13.7,13.9, 14.2,13.8,14.5,14.1,14.8,14.3,16.2,14.7,15.0,15.7, 15.3,15.1,15.6,15.4,15.9,15.2,15.8,16.4,16.1,17.0];

// ---- panel definitions (row 0 = R0, row 1 = rate) ----
const panels = [
  {row: 0, col: 0, groups: [
    {m: 0, med: lateR0_bdc_med, lo: lateR0_bdc_lo, hi: lateR0_bdc_hi},
    {m: 1, med: lateR0_bds_med, lo: lateR0_bds_lo, hi: lateR0_bds_hi},
    {m: 2, med: lateR0_ce_med, lo: lateR0_ce_lo, hi: lateR0_ce_hi}]},
  {row: 0, col: 1, groups: [
    {m: 0, med: constR0_bdc_med, lo: constR0_bdc_lo, hi: constR0_bdc_hi},
    {m: 2, med: constR0_ce_med, lo: constR0_ce_lo, hi: constR0_ce_hi}]},
  {row: 0, col: 2, groups: [
    {m: 0, med: notifR0_bdc_med, lo: notifR0_bdc_lo, hi: notifR0_bdc_hi},
    {m: 2, med: notifR0_ce_med, lo: notifR0_ce_lo, hi: notifR0_ce_hi}]},
  {row: 1, col: 0, groups: [
    {m: 0, med: lateRate_bdc_med, lo: lateRate_bdc_lo, hi: lateRate_bdc_hi},
    {m: 1, med: lateRate_bds_med, lo: lateRate_bds_lo, hi: lateRate_bds_hi},
    {m: 2, med: lateRate_ce_med, lo: lateRate_ce_lo, hi: lateRate_ce_hi}]},
  {row: 1, col: 1, groups: [
    {m: 0, med: constRate_bdc_med, lo: constRate_bdc_lo, hi: constRate_bdc_hi},
    {m: 2, med: constRate_ce_med, lo: constRate_ce_lo, hi: constRate_ce_hi}]},
  {row: 1, col: 2, groups: [
    {m: 0, med: notifRate_bdc_med, lo: notifRate_bdc_lo, hi: notifRate_bdc_hi},
    {m: 2, med: notifRate_ce_med, lo: notifRate_ce_lo, hi: notifRate_ce_hi}]}
];

// ---- layout ----
const W = 1834, H = 1215;
const colX = [130, 702.5, 1274.5], panelW = 564.5;
const rowY = [61, 621], panelH = 524.5;
const pad = ([a, b]) => [a - 0.04 * (b - a), b + 0.04 * (b - a)];  // R-style axis padding

const rowUnit = [1, RATE_UNIT];
const rowRef = [trueR0, trueRate];
const yScales = [
  d3.scaleLinear().domain(pad(r0Lim)).range([rowY[0] + panelH, rowY[0]]),
  d3.scaleLinear().domain(pad(rateLim)).range([rowY[1] + panelH, rowY[1]])
];

const svg = d3.select("#chart").append("svg")
  .attr("width", W)
  .attr("height", H);

const defs = svg.append("defs");

panels.forEach((p, pi) => {
  const x0 = colX[p.col], y0 = rowY[p.row];
  const n = p.groups.length * 100;
  // plot region sits ~2.5px right of the drawn box in the original
  const x = d3.scaleLinear().domain(pad([1, n])).range([x0 + 2.5, x0 + panelW + 2.5]);
  const y = yScales[p.row];
  const u = rowUnit[p.row];

  defs.append("clipPath").attr("id", "clip" + pi)
    .append("rect").attr("x", x0).attr("y", y0).attr("width", panelW).attr("height", panelH);

  const g = svg.append("g").attr("clip-path", `url(#clip${pi})`);

  p.groups.forEach((grp, gi) => {
    const pts = grp.med.map((m, i) => ({
      i: gi * 100 + i + 1,
      med: m * u, lo: grp.lo[i] * u, hi: grp.hi[i] * u
    }));
    const col = methodColors[grp.m];

    g.append("g").selectAll("line")
      .data(pts)
      .join("line")
      .attr("x1", d => x(d.i))
      .attr("x2", d => x(d.i))
      .attr("y1", d => y(d.lo))
      .attr("y2", d => y(d.hi))
      .attr("stroke", col)
      .attr("stroke-width", 1);

    g.append("g").selectAll("circle")
      .data(pts)
      .join("circle")
      .attr("cx", d => x(d.i))
      .attr("cy", d => y(d.med))
      .attr("r", 4.6)
      .attr("fill", col);
  });

  // true value
  g.append("line")
    .attr("x1", x0).attr("x2", x0 + panelW)
    .attr("y1", y(rowRef[p.row])).attr("y2", y(rowRef[p.row]))
    .attr("stroke", "#000")
    .attr("stroke-width", 2)
    .attr("stroke-dasharray", "7,5");

  svg.append("rect")
    .attr("x", x0).attr("y", y0)
    .attr("width", panelW).attr("height", panelH)
    .attr("fill", "none")
    .attr("stroke", "#000")
    .attr("stroke-width", 2);
});

// ---- left axes ----
const axisDefs = [
  {row: 0, ticks: r0Ticks, fmt: d3.format(".1f")},
  {row: 1, ticks: rateTicks, fmt: d3.format(".3f")}
];
axisDefs.forEach(a => {
  const ag = svg.append("g")
    .attr("transform", `translate(${colX[0]},0)`)
    .call(d3.axisLeft(yScales[a.row]).tickValues(a.ticks).tickSize(12).tickFormat(a.fmt));
  ag.select(".domain").remove();
  ag.selectAll(".tick line").attr("stroke", "#000").attr("stroke-width", 1.5);
  ag.selectAll(".tick text")
    .attr("x", null)
    .attr("dy", null)
    .attr("transform", "translate(-28,0) rotate(-90)")
    .attr("text-anchor", "middle")
    .attr("font-size", 20.5)
    .attr("fill", "#000");
});

// ---- titles ----
const titleX = [404, 996, 1500];
columnTitles.forEach((t, i) => {
  svg.append("text")
    .attr("x", titleX[i]).attr("y", 41)
    .attr("text-anchor", "middle")
    .attr("font-size", 37)
    .text(t);
});

svg.append("text")
  .attr("x", 965).attr("y", 1204)
  .attr("text-anchor", "middle")
  .attr("font-size", 37.5)
  .text("Simulation replicate");

const yl0 = svg.append("text")
  .attr("transform", `translate(41,${rowY[0] + panelH / 2}) rotate(-90)`)
  .attr("text-anchor", "middle")
  .attr("font-size", 37);
yl0.append("tspan").text("Basic reproductive number (");
yl0.append("tspan").attr("font-style", "italic").text("R");
yl0.append("tspan").attr("font-style", "italic").attr("font-size", 26).attr("dy", 7).text("0");
yl0.append("tspan").attr("dy", -7).text(")");

svg.append("text")
  .attr("transform", `translate(41,${rowY[1] + panelH / 2}) rotate(-90)`)
  .attr("text-anchor", "middle")
  .attr("font-size", 37)
  .text("Evolutionary rate (subs/site/year)");

// ---- legend ----
const lg = svg.append("g");
methods.forEach((m, i) => {
  lg.append("circle")
    .attr("cx", 149).attr("cy", 89.5 + i * 28.5)
    .attr("r", 3.2)
    .attr("fill", methodColors[i]);
  lg.append("text")
    .attr("x", 164).attr("y", 99.5 + i * 29)
    .attr("font-size", 29)
    .text(m);
});
</script>
</body>
</html>
